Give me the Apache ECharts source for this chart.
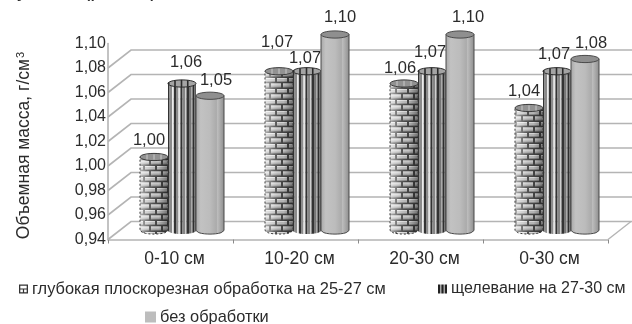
<!DOCTYPE html>
<html>
<head>
<meta charset="utf-8">
<style>html,body{margin:0;padding:0;background:#fff}#chart{width:632px;height:324px}</style>
<script src="https://cdn.jsdelivr.net/npm/echarts@6/dist/echarts.min.js"></script>
</head>
<body>
<div id="chart"></div>
<script>
// Bulk density of soil by layer under three tillage treatments
const categories = ['0-10 см', '10-20 см', '20-30 см', '0-30 см'];
const deepTillage = [1.00, 1.07, 1.06, 1.04];
const slitTillage = [1.06, 1.07, 1.07, 1.07];
const noTillage = [1.05, 1.10, 1.10, 1.08];
const seriesNames = [
  'глубокая плоскорезная обработка на 25-27 см',
  'щелевание на 27-30 см',
  'без обработки'
];
const wallTicks = [1.08, 1.06, 1.04, 1.02, 1.00, 0.98, 0.96, 0.94];
const axisName = 'Объемная масса, г/см';

// Hand placement of value labels relative to the top of each column [dx, dy]
const labelNudges = [
  [[-5, -17], [-2, -29], [-4, -15], [-5, -17]],
  [[4, -21], [-2, -13], [-2, -19], [-3, -17]],
  [[6, -15], [5, -17], [8, -17], [6, -16]]
];

const FONT = '"Liberation Sans", Arial, sans-serif';
const INK = '#2b2b2b';
const WALL = '#b4b4b4';
const DEPTH_X = 23, DEPTH_Y = 18;
const BAR_W = 28, CAP_RY = 3.6;

function brickTile() {
  const c = document.createElement('canvas');
  c.width = 12; c.height = 11;
  const g = c.getContext('2d');
  g.fillStyle = '#4a4a4a'; g.fillRect(0, 0, 12, 11);
  const brick = (x, y, w) => {
    g.fillStyle = '#c4c4c4'; g.fillRect(x, y, w, 3.5);
    g.fillStyle = '#e8e8e8'; g.fillRect(x, y, w, 1);
    g.fillStyle = '#929292'; g.fillRect(x, y + 3, w, 1);
  };
  brick(1, 1, 10);
  brick(-5, 6.5, 10);
  brick(7, 6.5, 10);
  return c;
}
const brickFill = { image: brickTile(), repeat: 'repeat' };

// Outline of one vertical slice of a cylinder, between the cap and the rounded foot
function sliver(cx, x0, x1, top, bottom, withTop) {
  const pts = [];
  const half = BAR_W / 2;
  const arc = (x) => CAP_RY * Math.sqrt(Math.max(0, 1 - Math.pow((x - cx) / half, 2)));
  const n = 10;
  for (let i = 0; i <= n; i++) {
    const x = x0 + (x1 - x0) * i / n;
    pts.push([x, top + (withTop ? arc(x) : 0)]);
  }
  for (let i = n; i >= 0; i--) {
    const x = x0 + (x1 - x0) * i / n;
    pts.push([x, bottom + arc(x)]);
  }
  return pts;
}

function capPoints(cx, top) {
  const pts = [];
  for (let i = 0; i < 28; i++) {
    const a = i / 28 * Math.PI * 2;
    pts.push([cx + BAR_W / 2 * Math.cos(a), top + CAP_RY * Math.sin(a)]);
  }
  return pts;
}

const shade = (stops) => ({
  type: 'linear', x: 0, y: 0, x2: 1, y2: 0,
  colorStops: stops.map(s => ({ offset: s[0], color: s[1] }))
});

// Repeating stripe colours of the slit-tillage columns, as [width, colour]
const stripeRun = [
  [1.5, '#333333'], [2.5, '#8a8a8a'], [1.5, '#ececec'], [0.5, '#aaaaaa'],
  [2, '#333333'], [2.5, '#8c8c8c'], [1.5, '#e4e4e4'], [0.5, '#aaaaaa'],
  [2, '#333333'], [2.5, '#858585'], [1.5, '#cfcfcf'],
  [2.5, '#333333'], [2.5, '#767676'], [1, '#9a9a9a'],
  [2, '#2e2e2e'], [1.5, '#5a5a5a']
];

function columnItem(seriesIdx) {
  return function (params, api) {
    const cat = api.value(0), val = api.value(1);
    const p = api.coord([cat, val]);
    const base = api.coord([cat, 0.94]);
    const cx = p[0] + DEPTH_X / 2 + (seriesIdx - 1) * BAR_W;
    const top = p[1] - DEPTH_Y / 2;
    const bottom = base[1] - DEPTH_Y / 2;
    const x0 = cx - BAR_W / 2, x1 = cx + BAR_W / 2;
    const children = [];

    if (seriesIdx === 0) {
      children.push({ type: 'polygon', shape: { points: sliver(cx, x0, x1, top, bottom) },
        style: { fill: brickFill } });
      children.push({ type: 'polygon', shape: { points: sliver(cx, x0, x1, top, bottom) },
        style: { fill: shade([[0, 'rgba(255,255,255,0.6)'], [0.3, 'rgba(255,255,255,0.2)'],
          [0.65, 'rgba(0,0,0,0.08)'], [1, 'rgba(0,0,0,0.45)']]), stroke: '#3a3a3a', lineWidth: 1,
          lineDash: [2, 2] } });
      children.push({ type: 'polygon', shape: { points: capPoints(cx, top) },
        style: { fill: '#929292', stroke: '#3a3a3a', lineWidth: 1 } });
      [-7, 0, 7].forEach(dx => {
        children.push({ type: 'line', shape: { x1: cx + dx, y1: top - 2.6, x2: cx + dx, y2: top + 2.6 },
          style: { stroke: '#c9c9c9', lineWidth: 1 } });
      });
    } else if (seriesIdx === 1) {
      let x = x0;
      const caps = [];
      stripeRun.forEach(([w, color]) => {
        const end = Math.min(x + w, x1);
        children.push({ type: 'polygon', shape: { points: sliver(cx, x, end, top, bottom, true) },
          style: { fill: color } });
        caps.push([x, end, color]);
        x = end;
      });
      children.push({ type: 'polygon', shape: { points: capPoints(cx, top) },
        style: { fill: '#a4a4a4', stroke: '#2a2a2a', lineWidth: 1 } });
      caps.filter(c => c[2] === '#333333').forEach(c => {
        const mid = (c[0] + c[1]) / 2;
        const h = CAP_RY * Math.sqrt(Math.max(0, 1 - Math.pow((mid - cx) / (BAR_W / 2), 2)));
        children.push({ type: 'line', shape: { x1: mid, y1: top - h, x2: mid, y2: top + h },
          style: { stroke: '#2a2a2a', lineWidth: 1.6 } });
      });
    } else {
      children.push({ type: 'polygon', shape: { points: sliver(cx, x0, x1, top, bottom) },
        style: { fill: shade([[0, '#a6a6a6'], [0.18, '#c2c2c2'], [0.5, '#bcbcbc'],
          [0.72, '#ababab'], [0.76, '#bcbcbc'], [0.9, '#a0a0a0'], [1, '#8a8a8a']]),
          stroke: '#4a4a4a', lineWidth: 1 } });
      children.push({ type: 'polygon', shape: { points: capPoints(cx, top) },
        style: { fill: '#8f8f8f', stroke: '#4a4a4a', lineWidth: 1 } });
    }

    const nudge = labelNudges[seriesIdx][cat];
    children.push({
      type: 'text', z2: 50,
      style: {
        text: val.toFixed(2).replace('.', ','),
        x: cx + nudge[0], y: top + nudge[1],
        align: 'center', verticalAlign: 'middle',
        font: '16.5px ' + FONT, fill: INK
      }
    });
    return { type: 'group', children };
  };
}

// Back wall and floor: each tick runs back along the side wall, then across the rear
function wallItem(params, api) {
  const v = api.value(0);
  const grid = params.coordSys;
  const y = api.coord([0, v])[1];
  const left = grid.x, right = grid.x + grid.width;
  const children = [{
    type: 'polyline',
    shape: { points: [[left, y], [left + DEPTH_X, y - DEPTH_Y], [632, y - DEPTH_Y]] },
    style: { fill: 'none', stroke: WALL, lineWidth: 1.6 }
  }];
  if (v === 0.94) {
    children.push({
      type: 'line',
      shape: { x1: right, y1: y, x2: right + DEPTH_X, y2: y - DEPTH_Y },
      style: { stroke: WALL, lineWidth: 1.4 }
    });
  }
  return { type: 'group', children };
}

const columns = [deepTillage, slitTillage, noTillage].map((values, i) => ({
  name: seriesNames[i],
  type: 'custom',
  z: 3 + i,
  coordinateSystem: 'cartesian2d',
  clip: false,
  renderItem: columnItem(i),
  encode: { x: 0, y: 1 },
  itemStyle: { color: ['#333', '#222', '#bdbdbd'][i] },
  data: values.map((v, c) => [c, v])
}));

const legendBase = {
  itemWidth: 9, itemHeight: 9, itemGap: 5, padding: 0, selectedMode: false
};
const legendText = (size) => ({
  fontFamily: FONT, fontSize: size, color: INK, padding: [0, 0, 0, -1]
});

const chart = echarts.init(document.getElementById('chart'), null, { renderer: 'canvas' });
chart.setOption({
  animation: false,
  backgroundColor: '#fff',
  textStyle: { fontFamily: FONT },
  title: {
    text: 'у         (рис. 1)', left: 17, top: -21, padding: 0,
    textStyle: { fontFamily: FONT, fontSize: 22, fontWeight: 'normal', color: INK }
  },
  grid: { left: 108, top: 43.5, width: 500, height: 196 },
  xAxis: {
    type: 'category', data: categories,
    axisLine: { lineStyle: { color: WALL, width: 1.6 } },
    axisTick: { show: true, length: 4, lineStyle: { color: '#8a8a8a' } },
    axisLabel: { color: INK, fontFamily: FONT, fontSize: 17.5, margin: 11, padding: [0, 0, 0, 8] }
  },
  yAxis: {
    type: 'value', min: 0.94, max: 1.10, interval: 0.02,
    axisLine: { show: true, lineStyle: { color: WALL, width: 1.6 } },
    axisTick: { show: false },
    splitLine: { show: false },
    axisLabel: {
      color: INK, fontFamily: FONT, fontSize: 16, margin: 2,
      formatter: v => v.toFixed(2).replace('.', ',')
    },
    name: '{t|' + axisName + '}{s|3}',
    nameLocation: 'middle', nameRotate: 90, nameGap: 74,
    nameTextStyle: {
      padding: [0, 8, 0, 0],
      rich: {
        t: { fontFamily: FONT, fontSize: 17.5, color: INK },
        s: { fontFamily: FONT, fontSize: 11, color: INK, verticalAlign: 'bottom', padding: [0, 0, 8, 1] }
      }
    }
  },
  legend: [
    Object.assign({}, legendBase, {
      data: [{ name: seriesNames[0], icon: 'path://M0 0H9V9H0Z M1.3 1.3V3.9H7.7V1.3Z M1.3 5.1V7.7H3.9V5.1Z M5.1 5.1V7.7H7.7V5.1Z' }],
      textStyle: legendText(16.4),
      left: 19, top: 281
    }),
    Object.assign({}, legendBase, {
      data: [{ name: seriesNames[1], icon: 'path://M0 0H2.4V9H0Z M3.3 0H5.7V9H3.3Z M6.6 0H9V9H6.6Z' }],
      textStyle: legendText(16),
      left: 438, top: 281
    }),
    Object.assign({}, legendBase, {
      data: [{ name: seriesNames[2], icon: 'rect' }],
      textStyle: legendText(16.4),
      itemWidth: 11, itemHeight: 11,
      left: 145, top: 309
    })
  ],
  series: [{
    type: 'custom', name: 'wall', z: 1, silent: true, clip: false,
    renderItem: wallItem,
    encode: { y: 0 },
    data: wallTicks.map(v => [v])
  }].concat(columns)
});
</script>
</body>
</html>
